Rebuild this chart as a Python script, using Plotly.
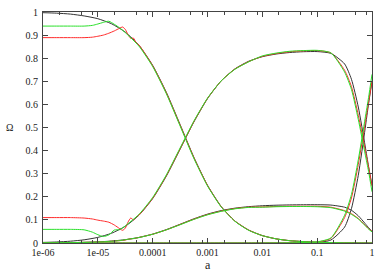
import plotly.graph_objects as go

# ---- data: exponents of a (log10 a) and Omega values ----
black_loga = [-6, -5.75, -5.5, -5.25, -5, -4.75, -4.5, -4.25, -4, -3.75, -3.5, -3.25, -3,
              -2.75, -2.5, -2.25, -2, -1.75, -1.5, -1.25, -1, -0.75, -0.5, -0.375, -0.25,
              -0.125, -0.0625, 0]
black_rad = [0.997, 0.995, 0.991, 0.983, 0.971, 0.949, 0.913, 0.856, 0.769, 0.652, 0.513, 0.372,
             0.250, 0.158, 0.095, 0.056, 0.032, 0.018, 0.010, 0.006, 0.003, 0.002, 0.001, 0.0007,
             0.0004, 0.0002, 0.0001, 0.0001]
black_cdm = [0.0025, 0.0044, 0.0078, 0.0138, 0.0243, 0.0422, 0.0722, 0.1203, 0.1923, 0.2899,
             0.4057, 0.5232, 0.625, 0.7018, 0.7539, 0.7867, 0.8065, 0.818, 0.8246, 0.8281, 0.8286,
             0.821, 0.7753, 0.7088, 0.5887, 0.4198, 0.3313, 0.25]
black_bar = [0.0005, 0.0009, 0.0016, 0.0028, 0.0049, 0.0084, 0.0144, 0.0241, 0.0385, 0.058, 0.0811,
             0.1046, 0.125, 0.1403, 0.1508, 0.1573, 0.1613, 0.1636, 0.1649, 0.1656, 0.1657, 0.1642,
             0.155, 0.1417, 0.1178, 0.084, 0.0663, 0.05]
black_de = [0, 0, 0, 0, 0, 0, 0, 0, 0, 0, 0, 0, 0, 0, 0, 0, 0, 0, 0.0001, 0.0004, 0.0023, 0.0129,
            0.0686, 0.1488, 0.2931, 0.496, 0.6024, 0.70]

green_loga = [-6, -5.75, -5.5, -5.25, -5.1, -5.0, -4.9, -4.8, -4.7, -4.6, -4.5, -4.25, -4, -3.75,
              -3.5, -3.25, -3, -2.75, -2.5, -2.25, -2, -1.75, -1.5, -1.25, -1, -0.75, -0.5,
              -0.375, -0.25, -0.125, -0.0625, 0]
green_rad = [0.939, 0.939, 0.939, 0.939, 0.942, 0.948, 0.955, 0.960, 0.947, 0.931, 0.911, 0.852,
             0.764, 0.646, 0.507, 0.367, 0.247, 0.156, 0.094, 0.055, 0.032, 0.018, 0.010, 0.006,
             0.003, 0.002, 0.001, 0.0007, 0.0004, 0.0002, 0.0001, 0.0001]
green_cdm = [0.059, 0.059, 0.059, 0.057, 0.047, 0.036, 0.028, 0.035, 0.056, 0.058, 0.074, 0.124,
             0.197, 0.295, 0.411, 0.527, 0.627, 0.702, 0.752, 0.784, 0.81, 0.822, 0.83, 0.833,
             0.834, 0.823, 0.74, 0.665, 0.535, 0.385, 0.31, 0.222]
green_bar = [0.0005, 0.0009, 0.0016, 0.0028, 0.0035, 0.0045, 0.0055, 0.0068, 0.0083, 0.0103,
             0.0141, 0.0236, 0.0378, 0.057, 0.079, 0.102, 0.122, 0.137, 0.148, 0.154, 0.155,
             0.157, 0.158, 0.158, 0.157, 0.153, 0.138, 0.124, 0.104, 0.075, 0.06, 0.048]
green_de = [0, 0, 0, 0, 0, 0, 0, 0, 0, 0, 0, 0, 0, 0, 0, 0, 0, 0, 0, 0, 0.0003, 0.0005, 0.001,
            0.002, 0.005, 0.022, 0.12, 0.21, 0.36, 0.54, 0.63, 0.73]

red_loga = [-6, -5.75, -5.5, -5.25, -5.1, -5.0, -4.9, -4.8, -4.7, -4.6, -4.55, -4.5, -4.45, -4.4,
            -4.35, -4.3, -4.25, -4, -3.75, -3.5, -3.25, -3, -2.75, -2.5, -2.25, -2, -1.75, -1.5,
            -1.25, -1, -0.75, -0.5, -0.375, -0.25, -0.125, -0.0625, 0]
red_rad = [0.889, 0.889, 0.889, 0.889, 0.891, 0.895, 0.900, 0.908, 0.918, 0.930, 0.935, 0.925,
           0.902, 0.886, 0.887, 0.866, 0.857, 0.767, 0.649, 0.510, 0.370, 0.249, 0.157, 0.095,
           0.056, 0.032, 0.018, 0.010, 0.006, 0.003, 0.002, 0.001, 0.0007, 0.0004, 0.0002,
           0.0001, 0.0001]
red_cdm = [0.110, 0.110, 0.110, 0.108, 0.104, 0.099, 0.095, 0.090, 0.078, 0.062, 0.055, 0.064,
           0.090, 0.108, 0.100, 0.113, 0.121, 0.194, 0.292, 0.408, 0.525, 0.626, 0.702, 0.753,
           0.785, 0.808, 0.82, 0.828, 0.832, 0.833, 0.823, 0.748, 0.677, 0.553, 0.403, 0.328,
           0.245]
red_bar = [0.0005, 0.0009, 0.0016, 0.0028, 0.0035, 0.0045, 0.0055, 0.0068, 0.0083, 0.0103, 0.011,
           0.013, 0.016, 0.018, 0.019, 0.021, 0.024, 0.038, 0.057, 0.08, 0.103, 0.123, 0.138,
           0.149, 0.155, 0.156, 0.158, 0.159, 0.159, 0.159, 0.155, 0.14, 0.127, 0.106, 0.077,
           0.062, 0.05]
red_de = [0, 0, 0, 0, 0, 0, 0, 0, 0, 0, 0, 0, 0, 0, 0, 0, 0, 0, 0, 0, 0, 0, 0, 0, 0, 0.0003,
          0.0005, 0.001, 0.002, 0.004, 0.02, 0.11, 0.195, 0.34, 0.52, 0.61, 0.70]

x_tick_vals = [1e-6, 1e-5, 1e-4, 1e-3, 1e-2, 1e-1, 1]
x_tick_text = ["1e-06", "1e-05", "0.0001", "0.001", "0.01", "0.1", "1"]
y_tick_vals = [0, 0.1, 0.2, 0.3, 0.4, 0.5, 0.6, 0.7, 0.8, 0.9, 1]
y_tick_text = ["0", "0.1", "0.2", "0.3", "0.4", "0.5", "0.6", "0.7", "0.8", "0.9", "1"]
x_minor_mult = [2, 5, 8]

models = [
    ("#333333", black_loga, [black_rad, black_cdm, black_bar, black_de]),
    ("#ff2a2a", red_loga, [red_rad, red_cdm, red_bar, red_de]),
    ("#2ae02a", green_loga, [green_rad, green_cdm, green_bar, green_de]),
]

fig = go.Figure()
for color, loga, series in models:
    a_vals = [10 ** e for e in loga]
    for ys in series:
        fig.add_trace(go.Scatter(x=a_vals, y=ys, mode="lines",
                                 line=dict(color=color, width=1, shape="spline", smoothing=0.6),
                                 showlegend=False, hoverinfo="skip"))

minor_vals = [m * d for d in x_tick_vals[:-1] for m in x_minor_mult]

# plot-area pixel geometry
W, H = 389, 273
ML, MR, MT, MB = 43, 17, 12, 30
PW, PH = W - ML - MR, H - MT - MB

font_family = "Liberation Serif, Times New Roman, serif"
axis_common = dict(showgrid=False, zeroline=False, showline=True, linecolor="#444444",
                   linewidth=1, ticks="inside", ticklen=5, tickcolor="#444444",
                   mirror="allticks", automargin=False,
                   tickfont=dict(family=font_family, size=10, color="#222222"))

fig.update_layout(
    template="none",
    width=W, height=H,
    margin=dict(l=ML, r=MR, t=MT, b=MB, pad=0, autoexpand=False),
    paper_bgcolor="white", plot_bgcolor="white",
    xaxis=dict(type="log", range=[-6, 0], tickmode="array", tickvals=x_tick_vals,
               ticktext=x_tick_text, ticklabelstandoff=0,
               minor=dict(tickmode="array", tickvals=minor_vals, ticks="inside", ticklen=3,
                          tickcolor="#444444", showgrid=False),
               **axis_common),
    yaxis=dict(range=[0, 1], tickmode="array", tickvals=y_tick_vals, ticktext=y_tick_text,
               ticklabelstandoff=2, **axis_common),
    annotations=[
        dict(text="a", x=0.5, y=(H - MB - 265) / PH, xref="paper", yref="paper",
             showarrow=False, yanchor="middle",
             font=dict(family=font_family, size=12, color="#222222")),
        dict(text="Ω", x=(9 - ML) / PW, y=(H - MB - 127) / PH, xref="paper", yref="paper",
             showarrow=False, xanchor="center", yanchor="middle",
             font=dict(family=font_family, size=10, color="#222222")),
    ],
)

fig.write_html("out.html", config={"displayModeBar": False, "staticPlot": True},
               post_script="document.body.style.margin='0';document.body.style.overflow='hidden';")
